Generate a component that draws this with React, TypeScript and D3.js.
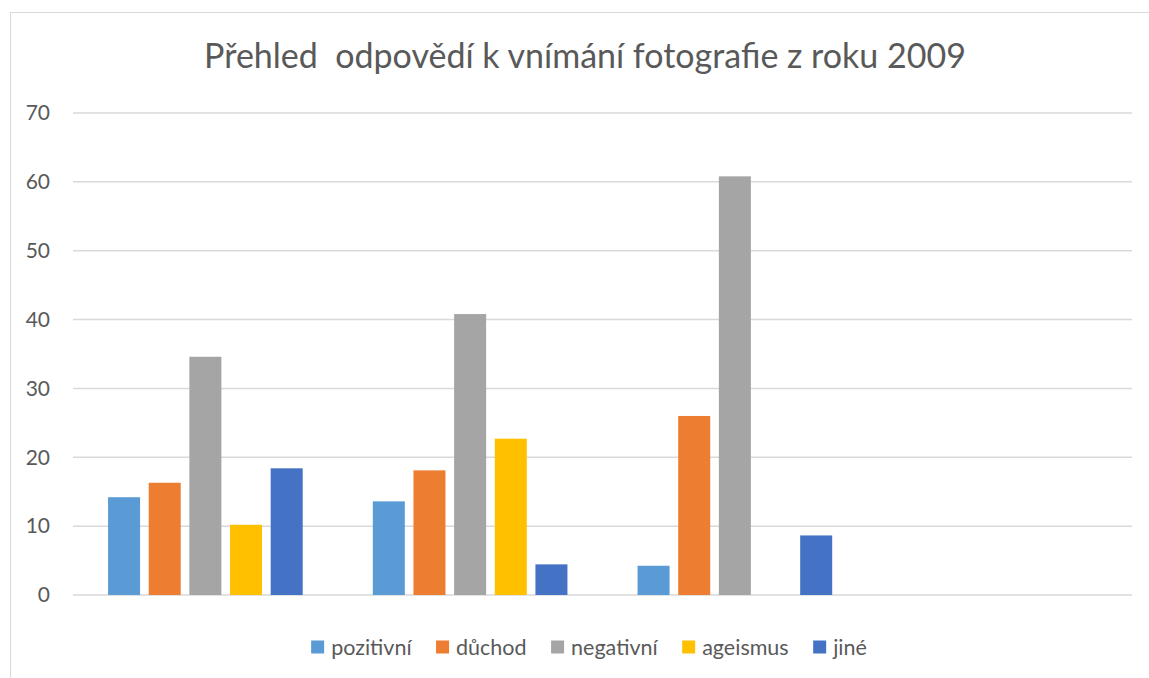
import * as d3 from "d3";
import { useEffect, useRef } from "react";

// categories have no visible labels in the original chart
const categories = ["", "", "", ""];
const seriesNames = ["pozitivní", "důchod", "negativní", "ageismus", "jiné"];
const seriesColors = ["#5B9BD5", "#ED7D31", "#A5A5A5", "#FFC000", "#4472C4"];

const pozitivni = [14.2, 13.6, 4.25, null];
const duchod = [16.3, 18.1, 26.0, null];
const negativni = [34.6, 40.8, 60.8, null];
const ageismus = [10.2, 22.7, null, null];
const jine = [18.4, 4.45, 8.65, null];

const yTicks = [0, 10, 20, 30, 40, 50, 60, 70];
const title = "Přehled  odpovědí k vnímání fotografie z roku 2009";

const W = 1149, H = 678;
const FONT = "Lato, 'Open Sans', sans-serif";

export default function App() {
  const ref = useRef<SVGSVGElement>(null);

  useEffect(() => {
    const svg = d3.select(ref.current);
    svg.selectAll("*").remove();

    const series = [pozitivni, duchod, negativni, ageismus, jine];
    const margin = { top: 113, right: 17, bottom: 83, left: 73 };

    // chart frame (partly outside the viewport, like the screenshot)
    svg.append("rect")
      .attr("x", 10.5).attr("y", 12.5)
      .attr("width", W + 20).attr("height", H + 20)
      .attr("fill", "white").attr("stroke", "#d9d9d9");

    const x0 = d3.scaleBand<number>()
      .domain(d3.range(categories.length))
      .range([margin.left, W - margin.right]);

    // Excel-like: overlap -27%, gap width 219%
    const x1 = d3.scaleBand<number>()
      .domain(d3.range(seriesNames.length))
      .range([0, x0.bandwidth()])
      .paddingInner(0.27 / 1.27)
      .paddingOuter(1.095 / 1.27);

    const y = d3.scaleLinear().domain([0, 70]).range([H - margin.bottom, margin.top]);

    // gridlines
    svg.append("g")
      .selectAll("line")
      .data(yTicks)
      .join("line")
      .attr("x1", margin.left).attr("x2", W - margin.right)
      .attr("y1", d => y(d)).attr("y2", d => y(d))
      .attr("stroke", "#d9d9d9").attr("stroke-width", 1.5);

    // y labels
    svg.append("g")
      .selectAll("text")
      .data(yTicks)
      .join("text")
      .attr("x", 50).attr("y", d => y(d))
      .attr("dy", "0.35em")
      .attr("text-anchor", "end")
      .attr("font-family", FONT).attr("font-size", 21)
      .attr("fill", "#595959")
      .text(d => d);

    // bars
    series.forEach((vals, si) => {
      svg.append("g")
        .selectAll("rect")
        .data(vals.map((v, ci) => ({ v, ci })).filter(d => d.v != null))
        .join("rect")
        .attr("x", d => (x0(d.ci) as number) + (x1(si) as number))
        .attr("width", x1.bandwidth())
        .attr("y", d => y(d.v as number))
        .attr("height", d => y(0) - y(d.v as number))
        .attr("fill", seriesColors[si]);
    });

    // title
    svg.append("text")
      .attr("x", 585).attr("y", 68)
      .attr("text-anchor", "middle")
      .attr("font-family", FONT).attr("font-size", 34)
      .attr("fill", "#595959")
      .style("white-space", "pre")
      .text(title);

    // legend, laid out by measured text width
    const lg = svg.append("g");
    const items = seriesNames.map((name, i) => {
      const g = lg.append("g");
      g.append("rect").attr("x", 0).attr("y", -6.5).attr("width", 13).attr("height", 13)
        .attr("fill", seriesColors[i]);
      const t = g.append("text").attr("x", 20).attr("dy", "0.35em")
        .attr("font-family", FONT).attr("font-size", 21.5).attr("fill", "#595959")
        .text(name);
      const w = 20 + (t.node() as SVGTextElement).getComputedTextLength();
      return { g, w };
    });
    const gap = 24.5;
    const total = d3.sum(items, d => d.w) + gap * (items.length - 1);
    let cx = 589 - total / 2;
    items.forEach(it => {
      it.g.attr("transform", `translate(${cx},647)`);
      cx += it.w + gap;
    });
  }, []);

  return (
    <svg ref={ref} width={W} height={H}
      style={{ position: "absolute", left: 0, top: 0, background: "white" }} />
  );
}
